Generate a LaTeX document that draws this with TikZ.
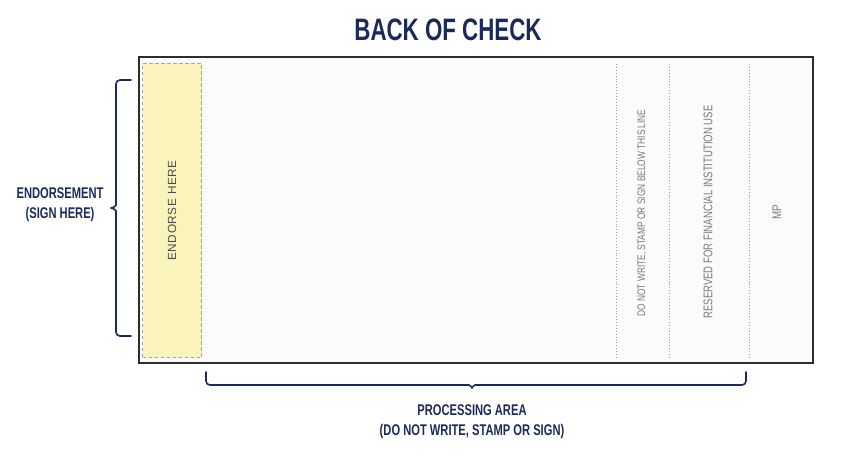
\documentclass[tikz,border=0pt]{standalone}
\usepackage{fontspec}
\setmainfont{Liberation Sans}
\newfontfamily\narrowfont[FakeStretch=0.72]{Liberation Sans}
\newfontfamily\slimfont[FakeStretch=0.76]{Liberation Sans}
\newfontfamily\spacedfont[LetterSpace=5]{Liberation Sans}
\definecolor{navy}{HTML}{1B2A5B}
\definecolor{checkfill}{HTML}{FAFBFD}
\definecolor{checkline}{HTML}{2E2E2E}
\definecolor{signfill}{HTML}{FBF3BC}
\definecolor{signline}{HTML}{A8A48E}
\definecolor{notegray}{HTML}{7A7A7A}
\definecolor{dotgray}{HTML}{A0A0A0}

\begin{document}
\begin{tikzpicture}[x=1pt,y=-1pt]
\tikzstyle{heading}=[text=navy,font=\narrowfont\bfseries\fontsize{15.5}{20}\selectfont,align=center]
\tikzstyle{brace}=[draw=navy,line width=1.6pt,line cap=round,rounded corners=4pt]
\tikzstyle{note}=[text=notegray,rotate=90,inner sep=0]
\tikzstyle{rule}=[draw=dotgray,line width=0.9pt,dotted]
\useasboundingbox (0,0) rectangle (846,464);
\node[heading,font=\narrowfont\bfseries\fontsize{31}{36}\selectfont] (title) at (448,30) {BACK OF CHECK};
\node[draw=checkline,fill=checkfill,line width=1.4pt,minimum width=674pt,minimum height=306pt,inner sep=0] (check) at (476,210) {};
\node[draw=signline,fill=signfill,dashed,dash pattern=on 3.5pt off 2.5pt,line width=0.8pt,minimum width=59pt,minimum height=294pt,inner sep=0] (endorse) at (172,210.5) {};
\node[note,text=black!70,font=\spacedfont\fontsize{11.8}{14}\selectfont] (sign) at (endorse.center) {ENDORSE HERE};
\coordinate (r1top) at (616,64);
\coordinate (r1bot) at (616,357);
\coordinate (r2top) at (669,64);
\coordinate (r2bot) at (669,357);
\coordinate (r3top) at (749,64);
\coordinate (r3bot) at (749,357);
\draw[rule] (r1top) -- (r1bot);
\draw[rule] (r2top) -- (r2bot);
\draw[rule] (r3top) -- (r3bot);
\node[note,font=\slimfont\fontsize{11}{13}\selectfont] (below) at (642,213) {DO NOT WRITE, STAMP OR SIGN BELOW THIS LINE};
\node[note,font=\slimfont\fontsize{12.6}{14}\selectfont] (reserved) at (708,212) {RESERVED FOR FINANCIAL INSTITUTION USE};
\node[note,font=\slimfont\fontsize{13}{15}\selectfont] (mp) at (777,212) {MP};
\coordinate (lbtop) at (131,80);
\coordinate (lbtip) at (108,208);
\coordinate (lbbot) at (131,336);
\draw[brace] (lbtop) -- (116,80) -- (116,201) .. controls (116,206) and (112,208) .. (lbtip) .. controls (112,208) and (116,210) .. (116,215) -- (116,336) -- (lbbot);
\node[heading,anchor=east] (endorsement) at (107,205) {ENDORSEMENT\\(SIGN HERE)};
\coordinate (bbleft) at (206,372);
\coordinate (bbtip) at (472,391);
\coordinate (bbright) at (746,372);
\draw[brace] (bbleft) -- (206,385) -- (465,385) .. controls (470,385) and (472,388) .. (bbtip) .. controls (472,388) and (474,385) .. (479,385) -- (746,385) -- (bbright);
\node[heading] (processing) at (472,422) {PROCESSING AREA\\(DO NOT WRITE, STAMP OR SIGN)};
\end{tikzpicture}
\end{document}
